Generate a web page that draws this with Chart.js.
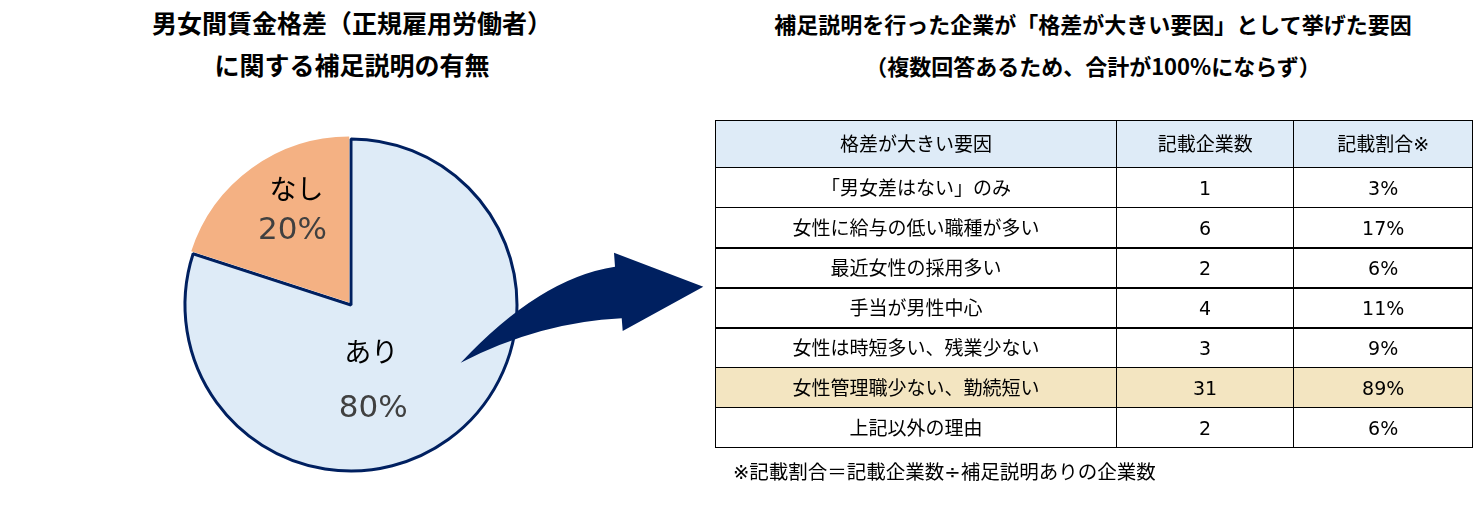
<!DOCTYPE html>
<html lang="ja">
<head>
<meta charset="utf-8">
<script src="https://cdn.jsdelivr.net/npm/chart.js@4/dist/chart.umd.min.js"></script>
<style>
  html, body { margin: 0; padding: 0; background: #fff; }
  body { width: 1473px; height: 522px; position: relative; overflow: hidden;
         font-family: "DejaVu Sans", "Noto Sans CJK JP", sans-serif; color: #000; }
  .title { position: absolute; font-weight: bold; text-align: center; line-height: 42px;
           font-family: "Noto Sans CJK JP", sans-serif; }
  #pieWrap { position: absolute; left: 0; top: 0; width: 702px; height: 522px; }
  #arrow { position: absolute; left: 0; top: 0; }
  table { position: absolute; left: 715px; top: 120px; border-collapse: collapse; font-size: 19px; }
  td, th { border: 1px solid #000; text-align: center; font-weight: normal; padding: 0; height: 39px; line-height: 24px; }
  th { background: #deebf7; height: 46px; }
  tr.hl td { background: #f3e5c1; }
  tr.thick td { border-top: 2px solid #000; height: 38px; }
  .note { position: absolute; left: 733px; top: 456px; font-size: 19.5px; }
</style>
</head>
<body>
<div class="title" style="left:52px; top:1px; width:600px; font-size:25px;">男女間賃金格差（正規雇用労働者）<br>に関する補足説明の有無</div>
<div class="title" style="left:693px; top:2px; width:800px; font-size:22px;">補足説明を行った企業が「格差が大きい要因」として挙げた要因<br>（複数回答あるため、合計が100%にならず）</div>

<div id="pieWrap"><canvas id="pie" width="702" height="522"></canvas></div>

<svg id="arrow" width="760" height="522">
  <path d="M 460.7 362.7 Q 540 278 615 266.7 L 614 252.7 L 703.3 286.7 L 622.7 331 L 621.7 318.3 Q 540 322 460.7 362.7 Z" fill="#002060"/>
</svg>

<table id="tbl"></table>
<div class="note">※記載割合＝記載企業数÷補足説明ありの企業数</div>

<script>
// pie data
const pieLabels = ["あり", "なし"]
const pieValues = [80, 20]
const pieColors = ["#deebf7", "#f4b183"]

// table data
const tableHeader = ["格差が大きい要因", "記載企業数", "記載割合※"]
const factors = ["「男女差はない」のみ", "女性に給与の低い職種が多い", "最近女性の採用多い", "手当が男性中心",
                 "女性は時短多い、残業少ない", "女性管理職少ない、勤続短い", "上記以外の理由"]
const companyCounts = [1, 6, 2, 4, 3, 31, 2]
const shares = ["3%", "17%", "6%", "11%", "9%", "89%", "6%"]
const highlightRow = 5

// build table
let tbl = document.getElementById("tbl")
let colWidths = [401, 177, 178]
let head = document.createElement("tr")
tableHeader.forEach((h, i) => {
    let th = document.createElement("th")
    th.textContent = h
    th.style.width = colWidths[i] + "px"
    head.appendChild(th)
})
tbl.appendChild(head)
factors.forEach((f, i) => {
    let tr = document.createElement("tr")
    if (i === highlightRow) tr.className = "hl"
    if (i >= 2 && i <= 4) tr.className = "thick"
    ;[f, companyCounts[i], shares[i]].forEach(v => {
        let td = document.createElement("td")
        td.textContent = v
        tr.appendChild(td)
    })
    tbl.appendChild(tr)
})

// labels inside slices: fraction of radius and angle shift from the slice middle
const sliceLabels = {
    id: "sliceLabels",
    afterDatasetsDraw(chart, args, opts) {
        let ctx = chart.ctx
        let meta = chart.getDatasetMeta(0)
        meta.data.forEach((arc, i) => {
            let p = arc.getProps(["x", "y", "startAngle", "endAngle", "outerRadius"], true)
            let mid = (p.startAngle + p.endAngle) / 2
            let off = chart.data.datasets[0].offset[i]
            let cx = p.x + Math.cos(mid) * off
            let cy = p.y + Math.sin(mid) * off
            let a = mid + opts.shift[i] * Math.PI / 180
            let x = cx + Math.cos(a) * p.outerRadius * opts.frac[i]
            let y = cy + Math.sin(a) * p.outerRadius * opts.frac[i]
            ctx.save()
            ctx.textAlign = "center"
            ctx.textBaseline = "middle"
            ctx.font = "27px 'Noto Sans CJK JP'"
            ctx.fillStyle = "#000"
            ctx.fillText(chart.data.labels[i], x, y - opts.gap[i] / 2)
            ctx.font = "31px 'DejaVu Sans'"
            ctx.fillStyle = "#404040"
            ctx.fillText(chart.data.datasets[0].data[i] + "%", x - opts.pctShift[i], y + opts.gap[i] / 2)
            ctx.restore()
        })
    }
}

new Chart(document.getElementById("pie"), {
    type: "pie",
    data: {
        labels: pieLabels,
        datasets: [{
            data: pieValues,
            backgroundColor: pieColors,
            borderColor: ["#002060", "#ffffff"],
            borderWidth: [3, 0],
            offset: [0, 12],
            hoverOffset: 0
        }]
    },
    options: {
        responsive: false,
        animation: false,
        radius: 166,
        layout: { padding: { top: 88, bottom: 0 } },
        plugins: {
            legend: { display: false },
            tooltip: { enabled: false },
            sliceLabels: { frac: [0.47, 0.59], shift: [21, 7], gap: [58, 42], pctShift: [-2, 4] }
        }
    },
    plugins: [sliceLabels]
})
</script>
</body>
</html>
